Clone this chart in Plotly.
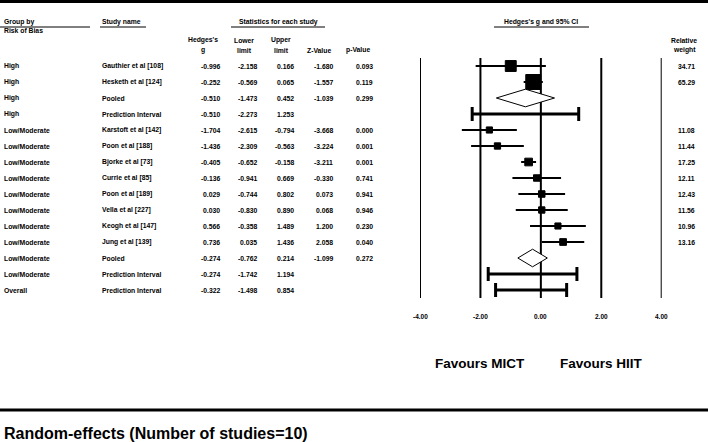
import plotly.graph_objects as go

# Forest plot: HIIT vs MICT, grouped by risk of bias
groups = ["High"] * 4 + ["Low/Moderate"] * 10 + ["Overall"]
studies = ["Gauthier et al [108]", "Hesketh et al [124]", "Pooled", "Prediction Interval",
           "Karstoft et al [142]", "Poon et al [188]", "Bjorke et al [73]", "Currie et al [85]",
           "Poon et al [189]", "Vella et al [227]", "Keogh et al [147]", "Jung et al [139]",
           "Pooled", "Prediction Interval", "Prediction Interval"]
kind = ["study", "study", "pooled", "pi",
        "study", "study", "study", "study", "study", "study", "study", "study",
        "pooled", "pi", "pi"]
hedges_g = [-0.996, -0.252, -0.510, -0.510, -1.704, -1.436, -0.405, -0.136,
            0.029, 0.030, 0.566, 0.736, -0.274, -0.274, -0.322]
lower = [-2.158, -0.569, -1.473, -2.273, -2.615, -2.309, -0.652, -0.941,
         -0.744, -0.830, -0.358, 0.035, -0.762, -1.742, -1.498]
upper = [0.166, 0.065, 0.452, 1.253, -0.794, -0.563, -0.158, 0.669,
         0.802, 0.890, 1.489, 1.436, 0.214, 1.194, 0.854]
z_value = [-1.680, -1.557, -1.039, None, -3.668, -3.224, -3.211, -0.330,
           0.073, 0.068, 1.200, 2.058, -1.099, None, None]
p_value = [0.093, 0.119, 0.299, None, 0.000, 0.001, 0.001, 0.741,
           0.941, 0.946, 0.230, 0.040, 0.272, None, None]
rel_weight = [34.71, 65.29, None, None, 11.08, 11.44, 17.25, 12.11,
              12.43, 11.56, 10.96, 13.16, None, None, None]

tick_vals = [-4, -2, 0, 2, 4]
tick_text = ["-4.00", "-2.00", "0.00", "2.00", "4.00"]

W, H = 708, 442
FONT = "Liberation Sans, Arial, sans-serif"


def px(x):
    return x / W


def py(y):
    return 1 - y / H


rows = list(range(len(studies)))
fig = go.Figure()

# study CI lines, then squares on top
st = [i for i in rows if kind[i] == "study"]
fig.add_trace(go.Scatter(
    x=[hedges_g[i] for i in st], y=st, mode="markers",
    marker=dict(size=1, color="black"),
    error_x=dict(type="data", symmetric=False,
                 array=[upper[i] - hedges_g[i] for i in st],
                 arrayminus=[hedges_g[i] - lower[i] for i in st],
                 color="black", thickness=2, width=0),
    hoverinfo="skip"))
fig.add_trace(go.Scatter(
    x=[hedges_g[i] for i in st], y=st, mode="markers",
    marker=dict(symbol="square", color="black", opacity=1,
                line=dict(color="black", width=1),
                size=[1.85 * rel_weight[i] ** 0.5 for i in st]),
    hoverinfo="skip"))

# prediction intervals
pi = [i for i in rows if kind[i] == "pi"]
fig.add_trace(go.Scatter(
    x=[hedges_g[i] for i in pi], y=pi, mode="markers",
    marker=dict(size=1, color="black"),
    error_x=dict(type="data", symmetric=False,
                 array=[upper[i] - hedges_g[i] for i in pi],
                 arrayminus=[hedges_g[i] - lower[i] for i in pi],
                 color="black", thickness=3, width=7),
    hoverinfo="skip"))

# pooled diamonds
h = 0.55
for i in rows:
    if kind[i] != "pooled":
        continue
    fig.add_trace(go.Scatter(
        x=[lower[i], hedges_g[i], upper[i], hedges_g[i], lower[i]],
        y=[i, i - h, i, i + h, i],
        mode="lines", fill="toself", fillcolor="white",
        line=dict(color="black", width=1), hoverinfo="skip"))

# vertical reference lines
for v in tick_vals:
    fig.add_shape(type="line", xref="x", yref="y domain", x0=v, x1=v, y0=0, y1=1,
                  line=dict(color="black", width=2), layer="below")

ann = []


def txt(x, y, s, xanchor="left", size=6.8, xref="paper", yref="paper"):
    ann.append(dict(x=x, y=y, xref=xref, yref=yref, text=s, showarrow=False,
                    xanchor=xanchor, yanchor="middle",
                    font=dict(family=FONT, size=size, color="black", weight="bold")))


def fmt(v):
    return "" if v is None else f"{v:.3f}"


# table body
for i in rows:
    txt(px(2), i, groups[i], yref="y")
    txt(px(100), i, studies[i], yref="y")
    txt(px(222), i, fmt(hedges_g[i]), "right", yref="y")
    txt(px(259), i, fmt(lower[i]), "right", yref="y")
    txt(px(296), i, fmt(upper[i]), "right", yref="y")
    if z_value[i] is not None:
        txt(px(335), i, fmt(z_value[i]), "right", yref="y")
    if p_value[i] is not None:
        txt(px(375), i, fmt(p_value[i]), "right", yref="y")
    if rel_weight[i] is not None:
        txt(px(697), i, f"{rel_weight[i]:.2f}", "right", yref="y")

# headers
txt(px(2), py(22), "Group by")
txt(px(2), py(31), "Risk of Bias")
txt(px(100), py(22), "Study name")
txt(px(278), py(22), "Statistics for each study", "center")
txt(px(541), py(22), "Hedges's g and 95% CI", "center")
for xc, a, b in [(203, "Hedges's", "g"), (244, "Lower", "limit"), (281, "Upper", "limit"),
                 (684, "Relative", "weight")]:
    txt(px(xc), py(40), a, "center")
    txt(px(xc), py(50), b, "center")
txt(px(319), py(50), "Z-Value", "center")
txt(px(358), py(50), "p-Value", "center")

# underlines
for x0, x1 in [(0, 90), (100, 146), (231, 325), (494, 589)]:
    fig.add_shape(type="line", xref="paper", yref="paper", x0=px(x0), x1=px(x1),
                  y0=py(27), y1=py(27), line=dict(color="black", width=1))

# axis tick labels
for v, t in zip(tick_vals, tick_text):
    txt(v, py(316), t, "center", size=6.5, xref="x")

txt(-2, py(363), "Favours MICT", "center", size=13.5, xref="x")
txt(2, py(363), "Favours HIIT", "center", size=13.5, xref="x")
txt(px(2), py(433), "Random-effects (Number of studies=10)", size=16)

# thick rules
for yy in [1.5, 410]:
    fig.add_shape(type="line", xref="paper", yref="paper", x0=0, x1=1,
                  y0=py(yy), y1=py(yy), line=dict(color="black", width=3))

fig.update_layout(
    width=W, height=H, margin=dict(l=0, r=0, t=0, b=0),
    paper_bgcolor="white", plot_bgcolor="white", showlegend=False,
    annotations=ann,
    xaxis=dict(range=[-4, 4], domain=[px(420), px(661.7)], showgrid=False,
               zeroline=False, showticklabels=False, ticks=""),
    yaxis=dict(range=[14.5, -0.5], domain=[py(298), py(58)], showgrid=False,
               zeroline=False, showticklabels=False, ticks=""),
)

# page body has a default 8px margin; drop it so the figure fills the window
fig.write_html("out.html", config={"displayModeBar": False},
               post_script="document.body.style.margin='0';document.body.style.overflow='hidden';")
